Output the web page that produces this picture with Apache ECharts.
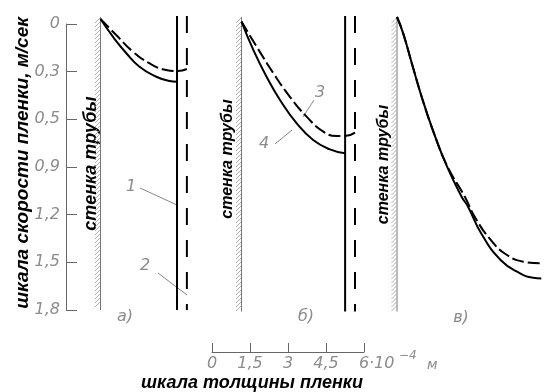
<!DOCTYPE html>
<html><head><meta charset="utf-8">
<script src="https://cdn.jsdelivr.net/npm/echarts@6/dist/echarts.min.js"></script>
<style>html,body{margin:0;padding:0;background:#fff}#c{width:545px;height:392px}</style>
</head><body><div id="c"></div>
<script>
// ---- data ----
const yTickValues = [0, 0.3, 0.6, 0.9, 1.2, 1.5, 1.8];
const yTickLabels = ['0', '0,3', '0,5', '0,9', '1,2', '1,5', '1,8'];
const xTickValues = [0, 1.5, 3, 4.5, 6];
const xTickLabels = ['0', '1,5', '3', '4,5', '6'];
const panelLabels = ['а)', 'б)', 'в)'];
const wallText = 'стенка трубы';
// thickness in 1e-4 m, velocity in m/s
const panelA_solid = [[0,-0.031],[0.49,0.080],[1.02,0.184],[1.54,0.269],[2.20,0.332],[2.72,0.359],[3.01,0.363]];
const panelA_dashed = [[0,-0.031],[0.62,0.069],[1.28,0.174],[1.93,0.247],[2.59,0.290],[2.92,0.296],[3.02,0.296],[3.41,0.283]];
const panelB_solid = [[0,-0.015],[0.47,0.164],[0.99,0.332],[1.52,0.478],[2.18,0.625],[2.83,0.730],[3.49,0.789],[4.09,0.814]];
const panelB_dashed = [[0,-0.015],[0.60,0.143],[1.26,0.310],[1.91,0.458],[2.57,0.583],[3.23,0.677],[3.76,0.705],[4.09,0.705],[4.48,0.684]];
const panelC_solid = [[0,-0.044],[0.25,0.059],[0.64,0.269],[1.04,0.478],[1.50,0.688],[2.03,0.898],[2.62,1.087],[2.88,1.150],[3.41,1.317],[4.20,1.485],[4.99,1.569],[5.52,1.597],[5.85,1.601]];
const panelC_dashed = [[0,-0.044],[0.25,0.059],[0.64,0.269],[1.04,0.478],[1.50,0.688],[2.05,0.898],[2.75,1.087],[3.15,1.213],[3.80,1.359],[4.46,1.454],[5.12,1.496],[5.84,1.506]];
const filmSolid = [3.02, 4.09];     // solid film surface lines (panels а, б)
const filmDashed = [3.41, 4.48];    // dashed film surface lines (panels а, б)
const wallTop = -0.044;
const wallBottom = [1.8, 1.81, 1.81];
const lineTop = -0.05;
const lineBottom = [1.8, 1.81];

// ---- chart ----
const chart = echarts.init(document.getElementById('c'), null, {renderer: 'canvas'});
const TICKFONT = {color: '#8c8c8c', fontStyle: 'italic', fontSize: 16, fontFamily: 'DejaVu Sans'};
const BOLD = {fill: '#000', fontStyle: 'italic', fontWeight: 'bold', fontSize: 17, fontFamily: 'Liberation Sans'};
const NOTE = {fill: '#8c8c8c', fontStyle: 'italic', fontSize: 16, fontFamily: 'DejaVu Sans'};

const panelLeft = [100.5, 241.5, 397];
const grids = [{left: 66, top: 24, width: 10, height: 286}];
panelLeft.forEach(l => grids.push({left: l, top: 24, width: 152, height: 286}));
grids.push({left: 212, top: 330, width: 152, height: 22});

const xAxes = [], yAxes = [];
for (let i = 0; i < 4; i++) {
  xAxes.push({gridIndex: i, type: 'value', min: 0, max: 6, show: false});
  yAxes.push({gridIndex: i, type: 'value', min: 0, max: 1.8, interval: 0.3, inverse: true, show: i === 0,
    axisLine: {show: true, lineStyle: {color: '#666', width: 1}},
    axisTick: {show: true, inside: true, length: 11, lineStyle: {color: '#666'}},
    splitLine: {show: false},
    axisLabel: Object.assign({margin: 6, formatter: v => yTickLabels[yTickValues.findIndex(t => Math.abs(t - v) < 1e-6)]}, TICKFONT)
  });
}
xAxes.push({gridIndex: 4, type: 'value', min: 0, max: 6, interval: 1.5, position: 'bottom',
  axisLine: {show: true, lineStyle: {color: '#666', width: 1}},
  axisTick: {show: true, inside: true, length: 9, lineStyle: {color: '#666'}},
  splitLine: {show: false},
  axisLabel: Object.assign({margin: 4, formatter: v => xTickLabels[xTickValues.findIndex(t => Math.abs(t - v) < 1e-6)]}, TICKFONT)
});
yAxes.push({gridIndex: 4, type: 'value', show: false});

function wallSeries(i) {
  return {
    type: 'custom', xAxisIndex: i + 1, yAxisIndex: i + 1, clip: false, silent: true,
    data: [[0, wallTop, wallBottom[i]]],
    encode: {x: 0, y: [1, 2]},
    renderItem: function (params, api) {
      const t = api.coord([api.value(0), api.value(1)]);
      const b = api.coord([api.value(0), api.value(2)]);
      const ch = [{type: 'line', shape: {x1: t[0], y1: t[1], x2: b[0], y2: b[1]}, style: {stroke: '#777', lineWidth: 1}}];
      for (let y = t[1] + 1; y <= b[1] - 5; y += 4) {
        ch.push({type: 'line', shape: {x1: t[0] - 0.5, y1: y, x2: t[0] - 5.5, y2: y + 5}, style: {stroke: '#999', lineWidth: 0.8}});
      }
      return {type: 'group', children: ch};
    }
  };
}
function curve(i, data, dashed) {
  return {type: 'line', xAxisIndex: i + 1, yAxisIndex: i + 1, data: data, showSymbol: false, symbol: 'none',
    smooth: true, clip: false, silent: true,
    lineStyle: {color: '#000', width: 2, type: dashed ? [12, 4] : 'solid'}};
}
function vline(i, x, dashed) {
  return {type: 'line', xAxisIndex: i + 1, yAxisIndex: i + 1, data: [[x, lineTop], [x, lineBottom[i]]],
    showSymbol: false, symbol: 'none', clip: false, silent: true,
    lineStyle: {color: '#000', width: 2, type: dashed ? [17, 15] : 'solid'}};
}

const series = [
  wallSeries(0), wallSeries(1), wallSeries(2),
  curve(0, panelA_solid, false), curve(0, panelA_dashed, true),
  curve(1, panelB_solid, false), curve(1, panelB_dashed, true),
  curve(2, panelC_solid, false), curve(2, panelC_dashed, true),
  vline(0, filmSolid[0], false), vline(0, filmDashed[0], true),
  vline(1, filmSolid[1], false), vline(1, filmDashed[1], true)
];

function txt(x, y, text, style, extra) {
  return Object.assign({type: 'text', x: x, y: y, style: Object.assign({text: text, align: 'center', verticalAlign: 'middle'}, style)}, extra || {});
}
const graphic = [
  txt(22.5, 163, 'шкала скорости пленки, м/сек', Object.assign({}, BOLD, {fontSize: 19}), {rotation: Math.PI / 2}),
  txt(91, 163.5, wallText, Object.assign({}, BOLD, {fontSize: 18}), {rotation: Math.PI / 2}),
  txt(228, 159, wallText, Object.assign({}, BOLD, {fontSize: 16}), {rotation: Math.PI / 2}),
  txt(384, 164.5, wallText, Object.assign({}, BOLD, {fontSize: 16}), {rotation: Math.PI / 2}),
  txt(252, 383, 'шкала толщины пленки', Object.assign({}, BOLD, {fontSize: 18})),
  txt(125, 317, panelLabels[0], NOTE),
  txt(306, 317, panelLabels[1], NOTE),
  txt(461, 318, panelLabels[2], NOTE),
  txt(131, 187, '1', NOTE),
  txt(145, 266, '2', NOTE),
  txt(320, 93, '3', NOTE),
  txt(264, 144, '4', NOTE),
  {type: 'line', shape: {x1: 140, y1: 188, x2: 177, y2: 205}, style: {stroke: '#666', lineWidth: 0.8}},
  {type: 'line', shape: {x1: 158, y1: 273, x2: 187, y2: 295}, style: {stroke: '#666', lineWidth: 0.8}},
  {type: 'line', shape: {x1: 314, y1: 100, x2: 303, y2: 117}, style: {stroke: '#666', lineWidth: 0.8}},
  {type: 'line', shape: {x1: 275, y1: 144, x2: 292, y2: 130}, style: {stroke: '#666', lineWidth: 0.8}},
  {type: 'text', x: 369, y: 364, style: Object.assign({text: '·10', align: 'left', verticalAlign: 'middle'}, NOTE)},
  {type: 'text', x: 399, y: 356, style: Object.assign({text: '−4', align: 'left', verticalAlign: 'middle'}, NOTE, {fontSize: 12})},
  {type: 'text', x: 427, y: 365, style: Object.assign({text: 'м', align: 'left', verticalAlign: 'middle'}, NOTE, {fontSize: 14})}
];

chart.setOption({
  animation: false,
  backgroundColor: '#fff',
  grid: grids, xAxis: xAxes, yAxis: yAxes, series: series, graphic: graphic
});
</script></body></html>
